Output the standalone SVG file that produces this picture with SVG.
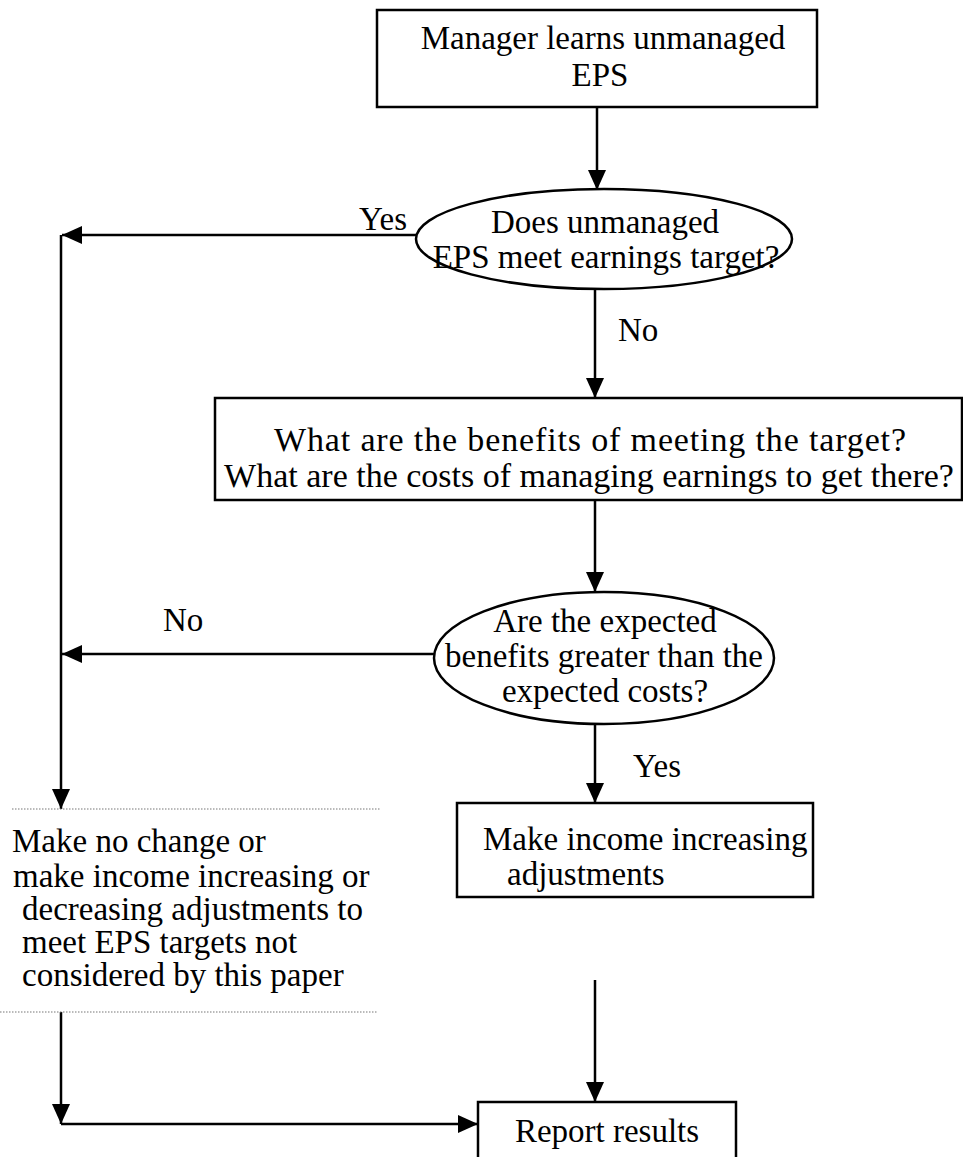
<svg xmlns="http://www.w3.org/2000/svg" width="963" height="1157" viewBox="0 0 963 1157">
<defs>
<marker id="ah" markerUnits="userSpaceOnUse" markerWidth="22" markerHeight="20" refX="20" refY="9" orient="auto">
<path d="M0,0 L20,9 L0,18 z" fill="#000"/>
</marker>
<style>
.t{font-family:"Liberation Serif","Times New Roman",serif;font-size:33px;fill:#000}
.c{text-anchor:middle}
.box{fill:#fff;stroke:#000;stroke-width:2.5}
.ln{fill:none;stroke:#000;stroke-width:2.5}
.dot{stroke:#777;stroke-width:1.2;stroke-dasharray:1.5 1.5}
</style>
</defs>
<rect width="963" height="1157" fill="#fff"/>
<g id="connectors">
<line class="ln" x1="597" y1="107" x2="597" y2="190" marker-end="url(#ah)"/>
<line class="ln" x1="416" y1="235" x2="62" y2="235" marker-end="url(#ah)"/>
<line class="ln" x1="61" y1="235" x2="61" y2="809" marker-end="url(#ah)"/>
<line class="ln" x1="595" y1="290" x2="595" y2="398" marker-end="url(#ah)"/>
<line class="ln" x1="595" y1="500" x2="595" y2="592" marker-end="url(#ah)"/>
<line class="ln" x1="434" y1="654" x2="62" y2="654" marker-end="url(#ah)"/>
<line class="ln" x1="595" y1="724" x2="595" y2="803" marker-end="url(#ah)"/>
<line class="ln" x1="61" y1="1012" x2="61" y2="1124" marker-end="url(#ah)"/>
<line class="ln" x1="61" y1="1124" x2="478" y2="1124" stroke-width="3.5" marker-end="url(#ah)"/>
<line class="ln" x1="595" y1="980" x2="595" y2="1102" marker-end="url(#ah)"/>
<text class="t" x="407" y="230" text-anchor="end">Yes</text>
<text class="t" x="618" y="341">No</text>
<text class="t" x="163" y="631">No</text>
<text class="t" x="633" y="777">Yes</text>
</g>
<g id="n1">
<rect class="box" x="377" y="10" width="440" height="97"/>
<text class="t c" x="603" y="49">Manager learns unmanaged</text>
<text class="t c" x="600" y="86">EPS</text>
</g>
<g id="n2">
<ellipse class="box" cx="604" cy="239" rx="188" ry="50"/>
<text class="t c" x="605" y="233">Does unmanaged</text>
<text class="t c" x="606" y="268">EPS meet earnings target?</text>
</g>
<g id="n3">
<rect class="box" x="215" y="398" width="747" height="102"/>
<text class="t c" x="590" y="451" style="font-size:34px" textLength="632" lengthAdjust="spacing">What are the benefits of meeting the target?</text>
<text class="t c" x="589" y="487" style="font-size:34px">What are the costs of managing earnings to get there?</text>
</g>
<g id="n4">
<ellipse class="box" cx="604" cy="658" rx="170" ry="66"/>
<text class="t c" x="605" y="632">Are the expected</text>
<text class="t c" x="604" y="667">benefits greater than the</text>
<text class="t c" x="605" y="702">expected costs?</text>
</g>
<g id="n5">
<rect class="box" x="457" y="803" width="356" height="94"/>
<text class="t" x="483" y="850">Make income increasing</text>
<text class="t" x="507" y="885">adjustments</text>
</g>
<g id="n6">
<line class="dot" x1="12" y1="809" x2="380" y2="809"/>
<text class="t" x="12" y="852">Make no change or</text>
<text class="t" x="13" y="887">make income increasing or</text>
<text class="t" x="22" y="920">decreasing adjustments to</text>
<text class="t" x="22" y="953">meet EPS targets not</text>
<text class="t" x="22" y="986">considered by this paper</text>
<line class="dot" x1="0" y1="1012" x2="378" y2="1012"/>
</g>
<g id="n7">
<rect class="box" x="478" y="1102" width="258" height="70"/>
<text class="t c" x="607" y="1142">Report results</text>
</g>
</svg>
